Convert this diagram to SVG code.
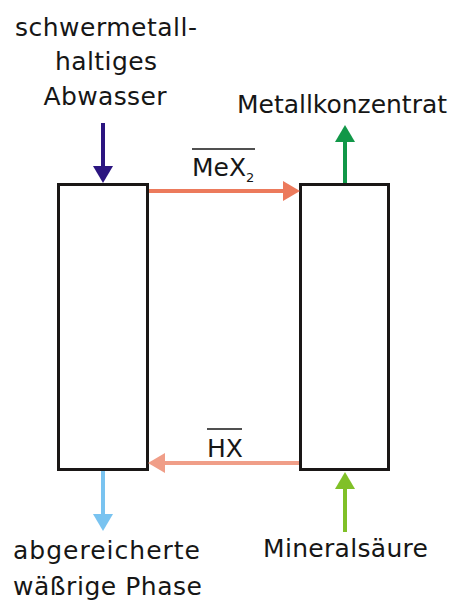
<svg xmlns="http://www.w3.org/2000/svg" width="454" height="600" viewBox="0 0 454 600">
<style>
.lbl{font-family:"DejaVu Sans","Liberation Sans",sans-serif;font-size:25px;fill:#161616;text-anchor:middle}
.box{fill:#fff;stroke:#1a1716;stroke-width:3}
.ov{stroke:#161616;stroke-width:1.5}
.c{fill:none;stroke-width:4}
</style>
<defs>
<marker id="hPurple" markerUnits="userSpaceOnUse" markerWidth="17" markerHeight="20" refX="0" refY="10" orient="auto"><path d="M0,0 L17,10 L0,20 z" fill="#2b1580"/></marker>
<marker id="hOrange" markerUnits="userSpaceOnUse" markerWidth="17" markerHeight="20" refX="0" refY="10" orient="auto"><path d="M0,0 L17,10 L0,20 z" fill="#ec7a5c"/></marker>
<marker id="hGreen" markerUnits="userSpaceOnUse" markerWidth="17" markerHeight="20" refX="0" refY="10" orient="auto"><path d="M0,0 L17,10 L0,20 z" fill="#119748"/></marker>
<marker id="hSalmon" markerUnits="userSpaceOnUse" markerWidth="17" markerHeight="20" refX="0" refY="10" orient="auto"><path d="M0,0 L17,10 L0,20 z" fill="#f09e88"/></marker>
<marker id="hBlue" markerUnits="userSpaceOnUse" markerWidth="17" markerHeight="20" refX="0" refY="10" orient="auto"><path d="M0,0 L17,10 L0,20 z" fill="#79c3f0"/></marker>
<marker id="hLime" markerUnits="userSpaceOnUse" markerWidth="17" markerHeight="20" refX="0" refY="10" orient="auto"><path d="M0,0 L17,10 L0,20 z" fill="#80c028"/></marker>
</defs>
<rect width="454" height="600" fill="#fff"/>
<g id="left-column">
<rect class="box" x="58.5" y="184.5" width="89" height="285"/>
</g>
<g id="right-column">
<rect class="box" x="300.5" y="184.5" width="88" height="285"/>
</g>
<g id="label-abwasser">
<text class="lbl" x="106" y="36" textLength="182" lengthAdjust="spacing">schwermetall-</text>
<text class="lbl" x="106" y="70" textLength="102" lengthAdjust="spacing">haltiges</text>
<text class="lbl" x="105" y="105" textLength="123" lengthAdjust="spacing">Abwasser</text>
</g>
<g id="label-metallkonzentrat">
<text class="lbl" x="342" y="113" textLength="210" lengthAdjust="spacing">Metallkonzentrat</text>
</g>
<g id="label-abgereichert">
<text class="lbl" x="106.5" y="559" textLength="187" lengthAdjust="spacing">abgereicherte</text>
<text class="lbl" x="107.5" y="595" textLength="189" lengthAdjust="spacing">wäßrige Phase</text>
</g>
<g id="label-mineralsaeure">
<text class="lbl" x="345.5" y="557" textLength="165" lengthAdjust="spacing">Mineralsäure</text>
</g>
<g id="label-mex2">
<text class="lbl" x="192" y="176" style="text-anchor:start">MeX<tspan font-size="13" dy="6">2</tspan></text>
<line class="ov" x1="192" y1="149" x2="255" y2="149"/>
</g>
<g id="label-hx">
<text class="lbl" x="207" y="457" style="text-anchor:start">HX</text>
<line class="ov" x1="207" y1="429" x2="242" y2="429"/>
</g>
<g id="connectors">
<line class="c" stroke="#2b1580" x1="103" y1="123" x2="103" y2="166" marker-end="url(#hPurple)"/>
<line class="c" stroke="#ec7a5c" x1="149" y1="191" x2="283" y2="191" marker-end="url(#hOrange)"/>
<line class="c" stroke="#119748" x1="345" y1="183" x2="345" y2="142" marker-end="url(#hGreen)"/>
<line class="c" stroke="#f09e88" x1="299" y1="463" x2="165" y2="463" marker-end="url(#hSalmon)"/>
<line class="c" stroke="#79c3f0" x1="103" y1="471" x2="103" y2="514" marker-end="url(#hBlue)"/>
<line class="c" stroke="#80c028" x1="345" y1="532" x2="345" y2="489" marker-end="url(#hLime)"/>
</g>
</svg>
